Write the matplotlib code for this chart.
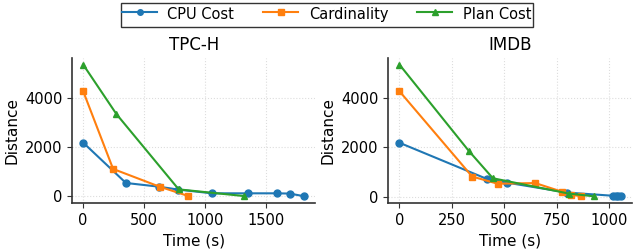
import matplotlib
matplotlib.use("Agg")
import matplotlib.pyplot as plt

# TPC-H
tpch_cpu_t = [0, 350, 620, 780, 1055, 1350, 1585, 1690, 1810]
tpch_cpu_d = [2180, 540, 390, 270, 120, 120, 120, 110, 0]
tpch_card_t = [0, 245, 625, 855]
tpch_card_d = [4270, 1110, 390, 20]
tpch_plan_t = [0, 272, 782, 1315]
tpch_plan_d = [5350, 3340, 280, 10]

# IMDB
imdb_cpu_t = [0, 418, 515, 800, 1020, 1035, 1045, 1055]
imdb_cpu_d = [2180, 710, 560, 160, 30, 20, 15, 10]
imdb_card_t = [0, 347, 468, 648, 774, 820, 868]
imdb_card_d = [4270, 810, 520, 545, 200, 70, 10]
imdb_plan_t = [0, 330, 446, 808, 926]
imdb_plan_d = [5350, 1860, 740, 120, 10]

panels = [
    ("TPC-H", tpch_cpu_t, tpch_cpu_d, tpch_card_t, tpch_card_d, tpch_plan_t, tpch_plan_d),
    ("IMDB", imdb_cpu_t, imdb_cpu_d, imdb_card_t, imdb_card_d, imdb_plan_t, imdb_plan_d),
]

plt.rcParams["font.size"] = 11

fig, axes = plt.subplots(1, 2, figsize=(6.38, 2.52), dpi=100)

for ax, (title, ct, cd, kt, kd, pt, pd) in zip(axes, panels):
    ax.plot(ct, cd, marker="o", color="#1f77b4", markersize=5, linewidth=1.5, label="CPU Cost")
    ax.plot(kt, kd, marker="s", color="#ff7f0e", markersize=5, linewidth=1.5, label="Cardinality")
    ax.plot(pt, pd, marker="^", color="#2ca02c", markersize=5, linewidth=1.5, label="Plan Cost")
    ax.set_title(title, fontsize=12)
    ax.set_xlabel("Time (s)")
    ax.set_ylabel("Distance")
    ax.grid(True, linestyle=":", color="#dddddd", linewidth=0.8)
    ax.spines["top"].set_visible(False)
    ax.spines["right"].set_visible(False)
    for s in ("left", "bottom"):
        ax.spines[s].set_linewidth(1.2)
        ax.spines[s].set_color("#333333")
    ax.tick_params(labelsize=10.5, color="#333333")
    ax.set_yticks([0, 2000, 4000])

axes[0].set_xticks([0, 500, 1000, 1500])
axes[1].set_xticks([0, 250, 500, 750, 1000])

handles, labels = axes[0].get_legend_handles_labels()
fig.legend(handles, labels, loc="upper center", ncol=3, bbox_to_anchor=(0.512, 0.99),
           frameon=True, fancybox=False, edgecolor="black", fontsize=10.5,
           borderpad=0.1, borderaxespad=0.0, handlelength=2.4, handletextpad=0.7,
           handleheight=1.9, columnspacing=2.0, markerscale=0.8)

fig.subplots_adjust(left=0.113, right=0.99, top=0.77, bottom=0.195, wspace=0.3)
fig.savefig("out.png", dpi=100)
